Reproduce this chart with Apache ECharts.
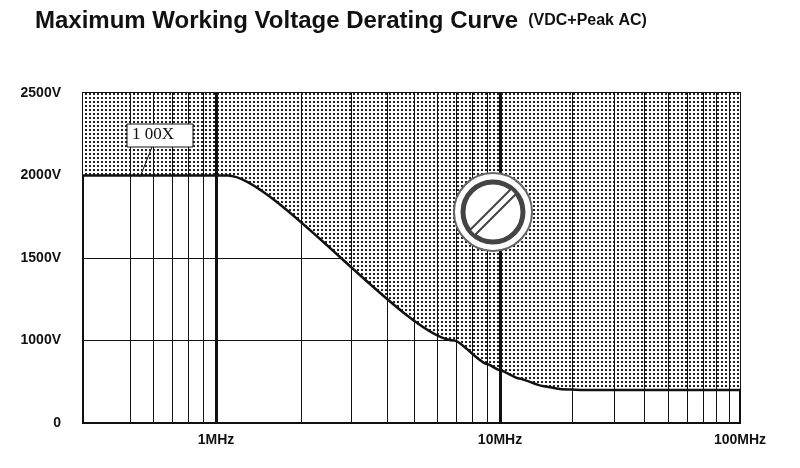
<!DOCTYPE html>
<html>
<head>
<meta charset="UTF-8">
<style>
  body { margin: 0; background: #fff; }
  #chart { width: 800px; height: 468px; }
</style>
</head>
<body>
<div id="chart"></div>
<script src="https://cdn.jsdelivr.net/npm/echarts@6/dist/echarts.min.js"></script>
<script>
    // frequency in MHz, voltage in V
    const freqs = [0.34, 1.1, 6.9, 9, 10, 12, 15, 18, 22, 100];
    const volts = [2000, 2000, 1000, 715, 640, 540, 450, 410, 400, 400];
    const yTickLabels = ['0', '1000V', '1500V', '2000V', '2500V'];
    const xTickFreqs = [1, 10, 100];
    const xTickLabels = ['1MHz', '10MHz', '100MHz'];
    const minorFreqs = [0.5, 0.6, 0.7, 0.8, 0.9, 2, 3, 4, 5, 6, 7, 8, 9, 20, 30, 40, 50, 60, 70, 80, 90];

    // the printed chart has uneven decades and a broken voltage scale
    function fx(f) {
        const l = Math.log10(f);
        return l <= 1 ? l * 284 : 284 + (l - 1) * 240;
    }
    function fy(v) {
        return v < 1000 ? v / 1000 : 1 + (v - 1000) / 500;
    }

    const dot = document.createElement('canvas');
    dot.width = 4; dot.height = 4;
    const dc = dot.getContext('2d');
    dc.fillStyle = '#fff'; dc.fillRect(0, 0, 4, 4);
    dc.fillStyle = '#222'; dc.fillRect(1, 1, 2, 2);

    const chart = echarts.init(document.getElementById('chart'));
    const lines = minorFreqs.map(f => ({ xAxis: fx(f), lineStyle: { width: 1 } }))
        .concat([1, 10].map(f => ({ xAxis: fx(f), lineStyle: { width: 3 } })));

    chart.setOption({
        animation: false,
        title: {
            text: '{a|Maximum Working Voltage Derating Curve}  {b|(VDC+Peak AC)}',
            left: 30, top: 4,
            textStyle: {
                rich: {
                    a: { fontFamily: 'Liberation Sans', fontWeight: 'bold', fontSize: 24, color: '#111' },
                    b: { fontFamily: 'Liberation Sans', fontWeight: 'bold', fontSize: 16, color: '#111' }
                }
            }
        },
        grid: { left: 83, right: 60, top: 93, bottom: 45, show: true, borderColor: '#111', borderWidth: 2 },
        xAxis: {
            type: 'value', min: fx(0.34), max: fx(100),
            axisLine: { show: false }, axisTick: { show: false }, splitLine: { show: false },
            axisLabel: {
                customValues: xTickFreqs.map(fx),
                formatter: v => xTickLabels[xTickFreqs.findIndex(f => Math.abs(fx(f) - v) < 1)],
                fontFamily: 'Liberation Sans', fontWeight: 'bold', fontSize: 14, color: '#111', margin: 10
            }
        },
        yAxis: {
            type: 'value', min: 0, max: 4, interval: 1,
            axisLine: { show: false }, axisTick: { show: false },
            splitLine: { lineStyle: { color: '#111', width: 1 } },
            axisLabel: {
                formatter: v => yTickLabels[v],
                fontFamily: 'Liberation Sans', fontWeight: 'bold', fontSize: 14, color: '#111', margin: 22
            }
        },
        series: [{
            type: 'line',
            data: freqs.map((f, i) => [fx(f), fy(volts[i])]),
            smooth: 0.2, smoothMonotone: 'x',
            symbol: 'none',
            lineStyle: { color: '#111', width: 2.5 },
            areaStyle: { origin: 'end', color: { image: dot, repeat: 'repeat' }, opacity: 1 },
            markLine: {
                silent: true, symbol: 'none', label: { show: false },
                lineStyle: { color: '#111', type: 'solid' },
                data: lines
            },
            z: 3
        }],
        graphic: [
            { type: 'line', z: 100, shape: { x1: 152, y1: 147, x2: 140, y2: 177 }, style: { stroke: '#111', lineWidth: 1 } },
            { type: 'rect', z: 100, shape: { x: 127, y: 124, width: 66, height: 23 }, style: { fill: '#fff', stroke: '#111', lineWidth: 1 } },
            { type: 'text', z: 101, x: 132, y: 126, style: { text: '1 00X', font: '17px "Liberation Serif"', fill: '#111' } },
            { type: 'group', z: 100, x: 493, y: 212, children: [
                { type: 'circle', z: 100, shape: { r: 39 }, style: { fill: '#fff', stroke: '#666', lineWidth: 2 } },
                { type: 'circle', z: 101, shape: { r: 30 }, style: { fill: 'none', stroke: '#444', lineWidth: 5 } },
                { type: 'line', z: 102, shape: { x1: -21, y1: 21, x2: 21, y2: -21 }, style: { stroke: '#444', lineWidth: 9 } },
                { type: 'line', z: 103, shape: { x1: -20, y1: 20, x2: 20, y2: -20 }, style: { stroke: '#fff', lineWidth: 5 } }
            ] }
        ]
    });
</script>
</body>
</html>
